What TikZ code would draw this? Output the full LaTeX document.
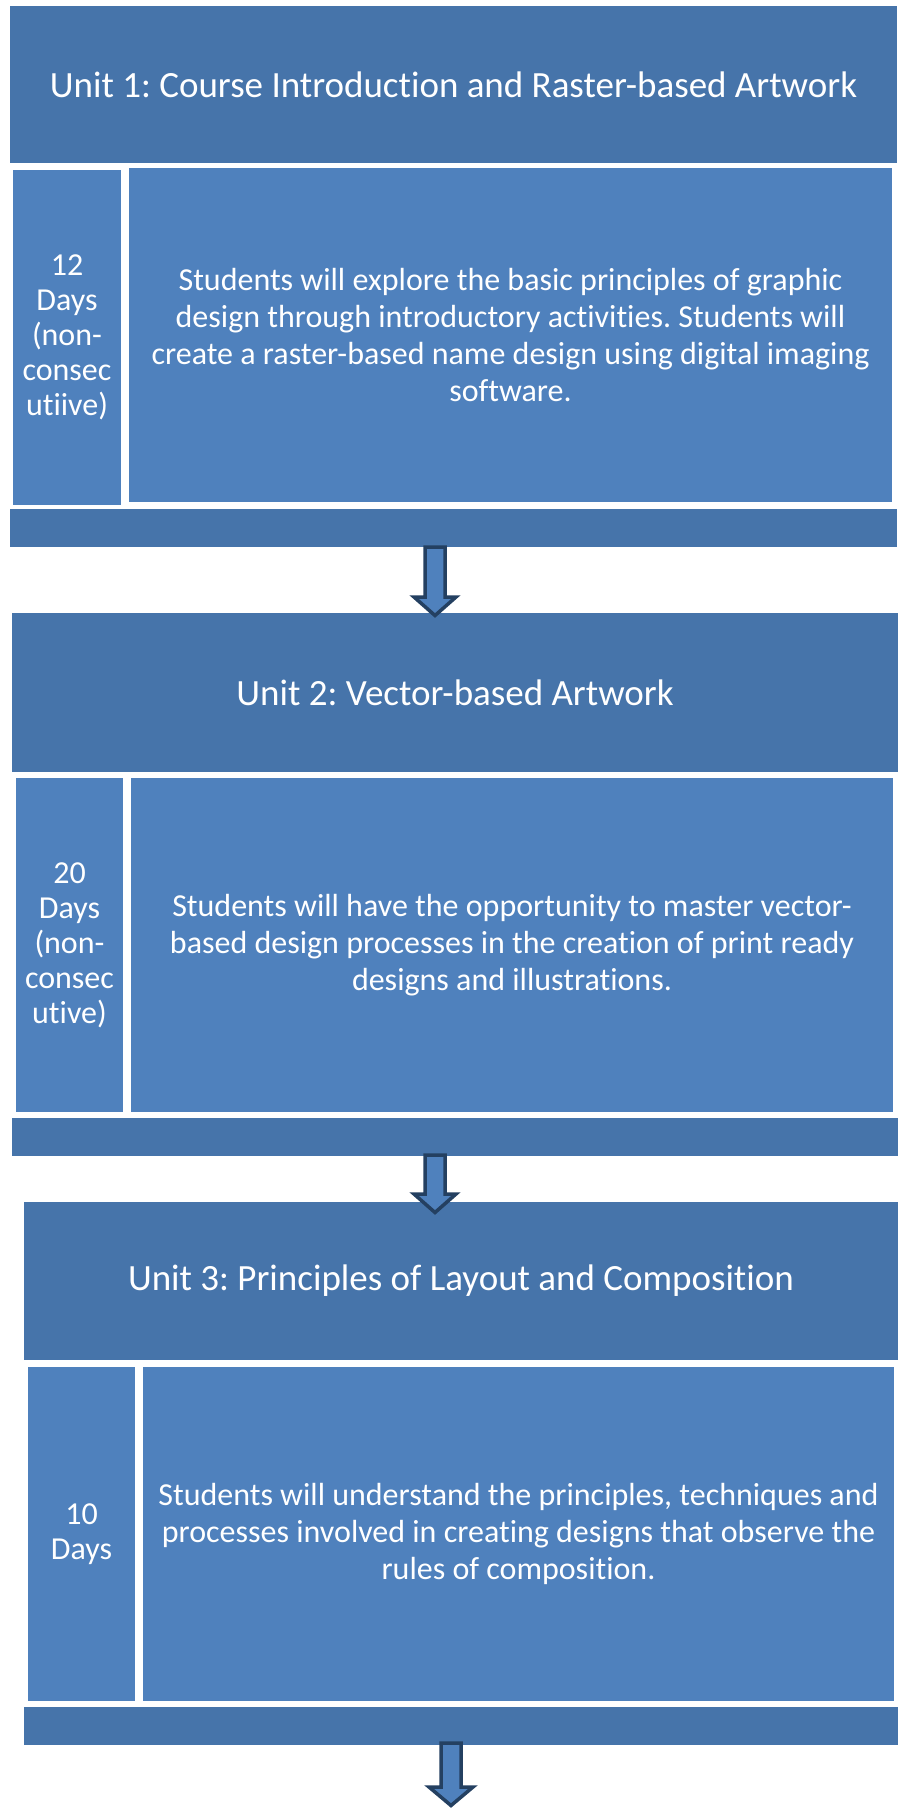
\documentclass[tikz,border=0pt]{standalone}
\usepackage{fontspec}
\setmainfont[Ligatures=NoCommon]{Carlito}
\frenchspacing
\definecolor{hdrblue}{RGB}{70,116,170}
\definecolor{boxblue}{RGB}{79,129,189}
\definecolor{arrowline}{RGB}{36,64,97}
\tikzset{
  hdr/.style={fill=hdrblue, inner sep=0pt, outer sep=0pt, text=white, align=center, font=\fontsize{37}{44}\selectfont},
  band/.style={fill=hdrblue, inner sep=0pt, outer sep=0pt},
  daybox/.style={fill=boxblue, draw=white, line width=2.5pt, inner sep=0pt, outer sep=0pt, text=white, align=center, font=\fontsize{32}{35}\selectfont},
  txtbox/.style={fill=boxblue, draw=white, line width=2.5pt, inner sep=0pt, outer sep=0pt, text=white, align=center, font=\fontsize{32}{36.7}\selectfont},
  arrowst/.style={fill=boxblue, draw=arrowline, line width=3.5pt, line join=miter},
  pics/dnarrow/.style n args={4}{code={\draw[arrowst] (-#4,2) -- (#4,2) -- (#4,#1) -- (#2,#1) -- (0,#3) -- (-#2,#1) -- (-#4,#1) -- cycle;}}
}
\begin{document}
\begin{tikzpicture}[x=1pt,y=-1pt]
\useasboundingbox[fill=white] (0,0) rectangle (899,1809);
% Block 1
\node[hdr, minimum width=887pt, minimum height=157pt] (h1) at (453.5,84.5) {Unit 1: Course Introduction and Raster-based Artwork};
\node[daybox, minimum width=110pt, minimum height=337pt] (d1) at (67,337.5) {12\\Days\\(non-\\consec\\utiive)};
\node[txtbox, minimum width=765pt, minimum height=336pt] (c1) at (510.5,335) {Students will explore the basic principles of graphic\\design through introductory activities. Students will\\create a raster-based name design using digital imaging\\software.};
\node[band, minimum width=887pt, minimum height=38pt] (b1) at (453.5,528) {};
% Block 2
\node[hdr, minimum width=886pt, minimum height=159pt] (h2) at (455,692.5) {Unit 2: Vector-based Artwork};
\node[daybox, minimum width=109pt, minimum height=336pt] (d2) at (69.5,945) {20\\Days\\(non-\\consec\\utive)};
\node[txtbox, minimum width=764pt, minimum height=336pt] (c2) at (512,945) {Students will have the opportunity to master vector-\\based design processes in the creation of print ready\\designs and illustrations.};
\node[band, minimum width=886pt, minimum height=38pt] (b2) at (455,1137) {};
% Block 3
\node[hdr, minimum width=874pt, minimum height=158pt] (h3) at (461,1281) {Unit 3: Principles of Layout and Composition};
\node[daybox, minimum width=109pt, minimum height=336pt] (d3) at (81.5,1534) {10\\Days};
\node[txtbox, minimum width=753pt, minimum height=336pt] (c3) at (518.5,1534) {Students will understand the principles, techniques and\\processes involved in creating designs that observe the\\rules of composition.};
\node[band, minimum width=874pt, minimum height=38pt] (b3) at (461,1726) {};
% Arrows
\coordinate (a1) at (435,545);
\coordinate (a2) at (435,1153);
\coordinate (a3) at (451,1741);
\pic at (a1) {dnarrow={52}{21}{70.5}{10}};
\pic at (a2) {dnarrow={41}{21}{59.5}{10}};
\pic at (a3) {dnarrow={46}{22}{64.5}{10}};
\end{tikzpicture}
\end{document}
